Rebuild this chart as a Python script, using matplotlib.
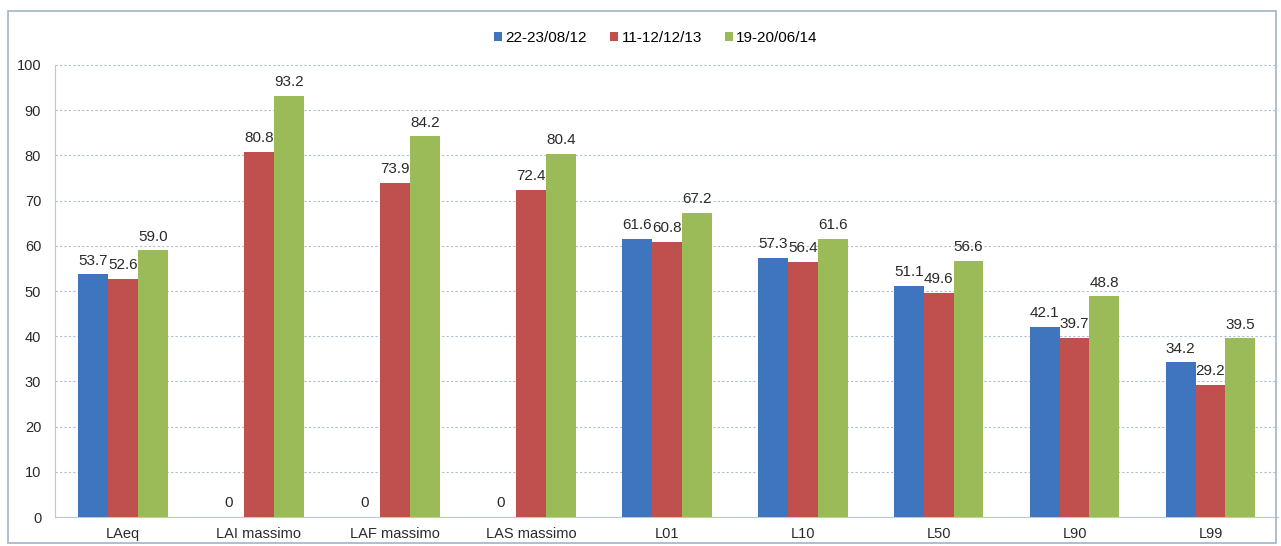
import numpy as np
import matplotlib.pyplot as plt
from matplotlib.patches import Rectangle

plt.rcParams['font.family'] = ['Liberation Sans', 'DejaVu Sans']

categories = ['LAeq', 'LAI massimo', 'LAF massimo', 'LAS massimo', 'L01', 'L10', 'L50', 'L90', 'L99']
series_names = ['22-23/08/12', '11-12/12/13', '19-20/06/14']
s1 = [53.7, 0, 0, 0, 61.6, 57.3, 51.1, 42.1, 34.2]
s2 = [52.6, 80.8, 73.9, 72.4, 60.8, 56.4, 49.6, 39.7, 29.2]
s3 = [59.0, 93.2, 84.2, 80.4, 67.2, 61.6, 56.6, 48.8, 39.5]
colors = ['#3F74BE', '#C0504D', '#9BBB59']

fig = plt.figure(figsize=(12.81, 5.46), dpi=100)
ax = fig.add_axes([0.043, 0.053, 0.955, 0.828])

x = np.arange(len(categories))
w = 0.22
for i, (vals, name, c) in enumerate(zip([s1, s2, s3], series_names, colors)):
    pos = x + (i - 1) * w
    ax.bar(pos, vals, width=w, color=c, label=name, zorder=3)
    for px, v in zip(pos, vals):
        txt = '0' if v == 0 else f'{v:.1f}'
        ax.text(px, v + 1.5, txt, ha='center', va='bottom', fontsize=11, color='#2a2a2a', zorder=4)

ax.set_xlim(-0.5, len(categories) - 0.5)
ax.set_ylim(0, 100)
ax.set_yticks(range(0, 101, 10))
ax.set_xticks(x)
ax.set_xticklabels(categories, fontsize=10.5, color='#2a2a2a')
ax.tick_params(axis='y', labelsize=10.5, labelcolor='#2a2a2a', length=0, pad=10)
ax.tick_params(axis='x', length=0, pad=7)
ax.grid(axis='y', color='#A9C0D4', linestyle=(0, (2, 2)), linewidth=0.8, zorder=0)
for s in ['top', 'right']:
    ax.spines[s].set_visible(False)
ax.spines['left'].set_color('#B8C8D8')
ax.spines['bottom'].set_color('#B8C8D8')

fig.legend(loc='upper center', bbox_to_anchor=(0.512, 0.968), ncol=3, frameon=False,
           fontsize=11, handlelength=0.55, handleheight=0.55, handletextpad=0.2, columnspacing=1.5)

fig.patches.append(Rectangle((0.006, 0.005), 0.99, 0.975, transform=fig.transFigure,
                             fill=False, edgecolor='#9FB4C8', linewidth=1.2))

fig.savefig('out.png', dpi=100)
